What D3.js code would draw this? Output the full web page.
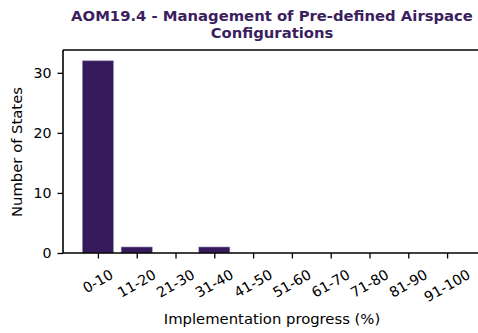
<!DOCTYPE html>
<html><head><meta charset="utf-8">
<script src="https://cdn.jsdelivr.net/npm/d3@7"></script>
<style>body{margin:0;background:#fff}svg{display:block}text{font-family:"DejaVu Sans",sans-serif}</style>
</head><body>
<svg id="c" width="478" height="333"></svg>
<script>
const categories = ["0-10","11-20","21-30","31-40","41-50","51-60","61-70","71-80","81-90","91-100"];
const values = [32,1,0,1,0,0,0,0,0,0];
const yTicks = [0,10,20,30];
const titleLines = ["AOM19.4 - Management of Pre-defined Airspace","Configurations"];

(function(){
const svg = d3.select("#c");
const L = 63, R = 482, T = 50, B = 253;
const x = d3.scaleLinear().domain([-0.9, 9.9]).range([L, R]);
const y = d3.scaleLinear().domain([0, 33.8]).range([B, T]);
const barW = 0.8;
const fill = "#371a5c";
const tickFs = 14.2, labFs = 14.8;

svg.selectAll("rect.bar").data(values).enter().append("rect")
  .attr("x", (d,i)=>x(i-barW/2)).attr("width", x(barW)-x(0))
  .attr("y", d=>y(d)).attr("height", d=>y(0)-y(d))
  .attr("fill", fill).attr("stroke", "#9a8cb0").attr("stroke-width", 0.6);

const sw = 1.6;
svg.append("line").attr("x1",L).attr("x2",L).attr("y1",T).attr("y2",B).attr("stroke","#000").attr("stroke-width",sw);
svg.append("line").attr("x1",L).attr("x2",R).attr("y1",T).attr("y2",T).attr("stroke","#000").attr("stroke-width",sw);
svg.append("line").attr("x1",L).attr("x2",R).attr("y1",B).attr("y2",B).attr("stroke","#000").attr("stroke-width",sw);

const ya = svg.append("g").attr("transform",`translate(${L},0)`)
  .call(d3.axisLeft(y).tickValues(yTicks).tickSize(5.5).tickPadding(6));
ya.select(".domain").remove();
ya.selectAll("line").attr("stroke","#000").attr("stroke-width",1.3);
ya.selectAll("text").attr("font-size",tickFs+"px").attr("fill","#000").style("font-family","DejaVu Sans");

const xa = svg.append("g").attr("transform",`translate(0,${B})`)
  .call(d3.axisBottom(x).tickValues(d3.range(categories.length)).tickSize(5.5).tickFormat(""));
xa.select(".domain").remove();
xa.selectAll("line").attr("stroke","#000").attr("stroke-width",1.3);

const labTop = 267;
const a = Math.PI/6;
categories.forEach((c,i)=>{
  const t = svg.append("text").text(c).attr("font-size",tickFs+"px").attr("fill","#000")
    .attr("text-anchor","middle").attr("dominant-baseline","central");
  const w = t.node().getComputedTextLength();
  const bh = w*Math.sin(a) + tickFs*Math.cos(a);
  t.attr("transform",`translate(${x(i)},${labTop + bh/2}) rotate(-30)`);
});

svg.append("text").text("Implementation progress (%)").attr("x",272).attr("y",324)
  .attr("text-anchor","middle").attr("font-size",labFs+"px").attr("fill","#000");
svg.append("text").text("Number of States").attr("transform","translate(22,152) rotate(-90)")
  .attr("text-anchor","middle").attr("font-size",labFs+"px").attr("fill","#000");

svg.selectAll("text.title").data(titleLines).enter().append("text")
  .attr("x",272).attr("y",(d,i)=>21+i*17).attr("text-anchor","middle")
  .attr("font-size","14.8px").attr("font-weight","bold").attr("fill","#3a1e5e").text(d=>d);
})();
</script>
</body></html>
